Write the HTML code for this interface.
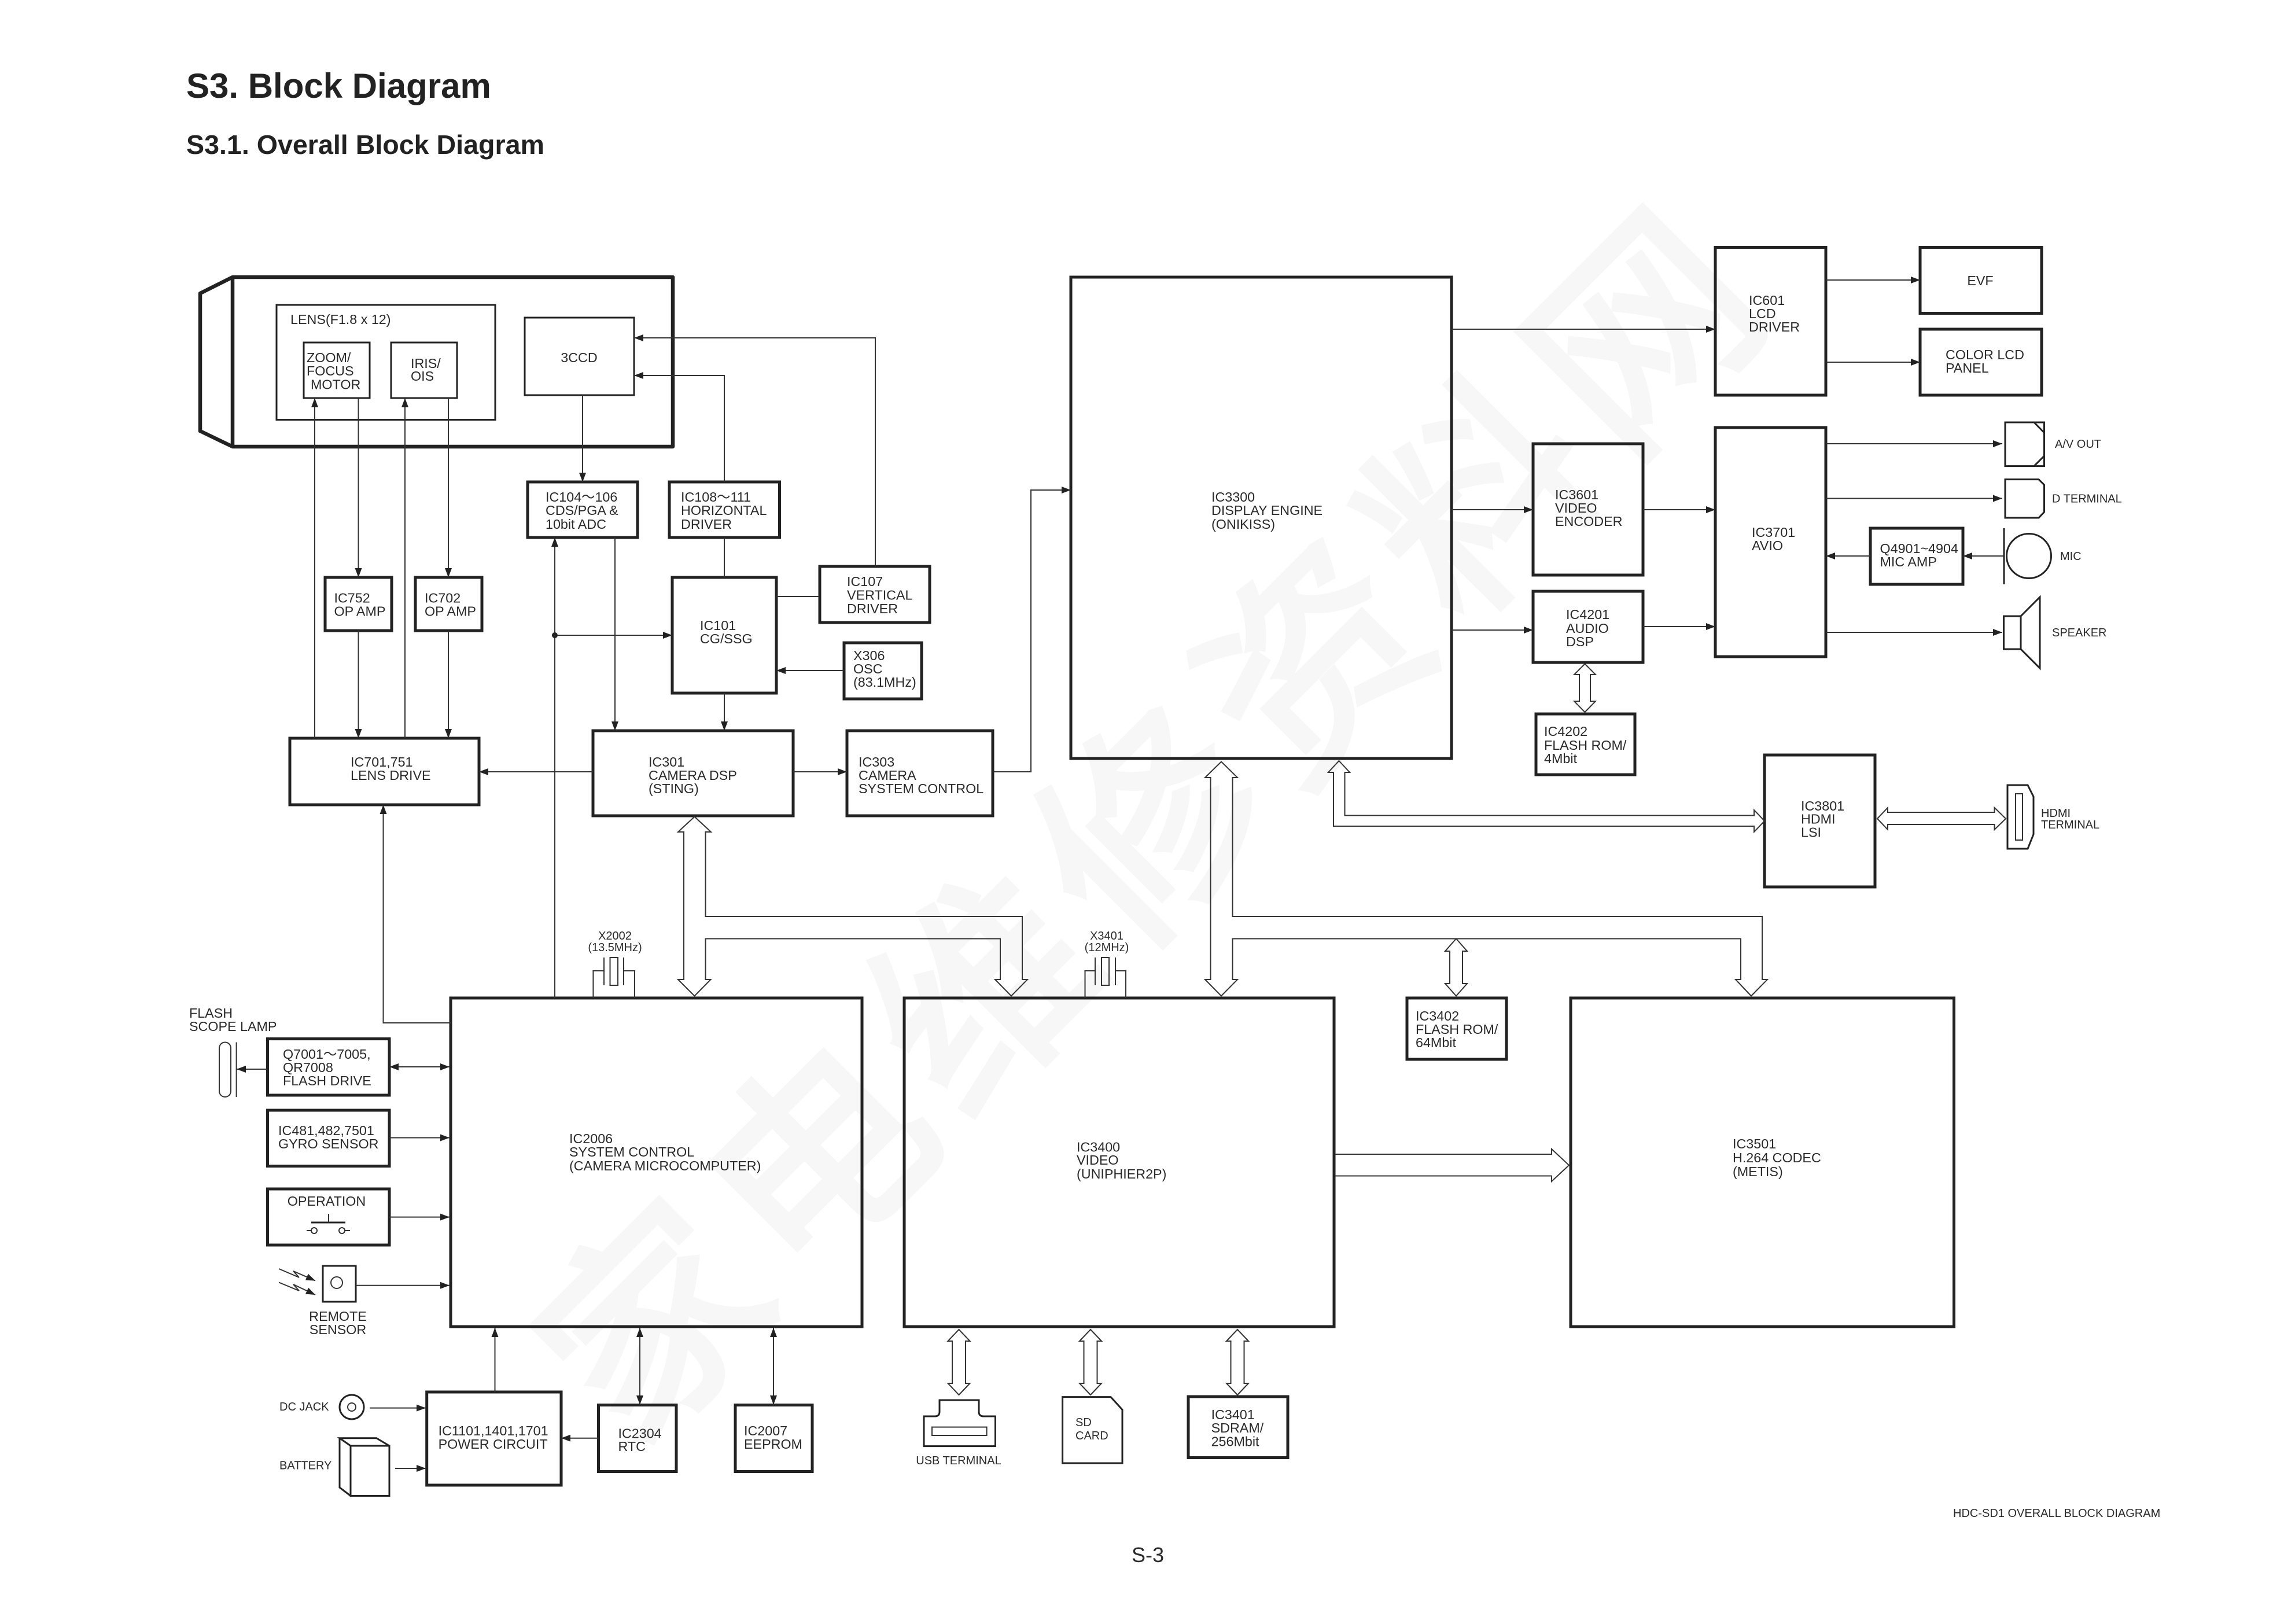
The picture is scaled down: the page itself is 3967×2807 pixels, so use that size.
<!DOCTYPE html>
<html lang="en"><head><meta charset="utf-8"><title>S3. Block Diagram</title>
<style>
html,body{margin:0;padding:0;background:#fff}
svg{display:block}
text{font-family:"Liberation Sans",sans-serif;fill:#2a2a2a;font-size:23.3px}
.s{font-size:20px}
.m{text-anchor:middle}
.wm{font-family:"Liberation Sans","Noto Sans CJK SC",sans-serif;fill:#f7f7f7;stroke:#f7f7f7;stroke-width:10px;font-size:370px;font-weight:400;letter-spacing:33px;text-anchor:middle}
.b{fill:none;stroke:#222;stroke-width:5}
.t{fill:none;stroke:#222;stroke-width:3}
.l{fill:none;stroke:#333;stroke-width:2;marker-end:url(#a)}
.n{fill:none;stroke:#333;stroke-width:2}
.d{fill:none;stroke:#333;stroke-width:2;marker-end:url(#a);marker-start:url(#a)}
.h{fill:none;stroke:#333;stroke-width:2;stroke-linejoin:miter}
</style></head><body>
<svg xmlns="http://www.w3.org/2000/svg" width="3967" height="2807" viewBox="0 0 3967 2807">
<defs><marker id="a" viewBox="0 0 16 12" refX="16" refY="6" markerWidth="16" markerHeight="12" markerUnits="userSpaceOnUse" orient="auto-start-reverse"><path d="M0,0L16,6L0,12Z" fill="#222"/></marker></defs>
<rect width="3967" height="2807" fill="#fff"/>
<text class="wm" x="2001" y="1550" transform="rotate(-45 2001 1422)">家电维修资料网</text>

<text x="322" y="169" style="font-size:60px;font-weight:700;fill:#222">S3. Block Diagram</text>
<text x="322" y="266" style="font-size:46.6px;font-weight:700;fill:#222">S3.1. Overall Block Diagram</text>
<text x="3376" y="2622" style="font-size:20px">HDC-SD1 OVERALL BLOCK DIAGRAM</text>
<text x="1956" y="2700" style="font-size:36px">S-3</text>

<!-- camera -->
<path d="M346,507L402,479H1163V772H402L346,745ZM402,479V772" fill="none" stroke="#222" stroke-width="6.5" stroke-linejoin="round"/>
<rect class="t" x="478" y="527" width="378" height="198.500"/>
<rect class="t" x="525" y="592" width="114" height="96"/>
<rect class="t" x="676" y="592" width="114" height="96"/>
<rect class="t" x="907" y="549" width="189" height="134"/>
<text x="502" y="560">LENS(F1.8 x 12)</text>
<text x="530" y="626">ZOOM/</text><text x="530" y="649">FOCUS</text><text x="537" y="672.500">MOTOR</text>
<text x="710" y="636">IRIS/</text><text x="710" y="658">OIS</text>
<text x="1001" y="626" class="m">3CCD</text>

<!-- upper left blocks -->
<rect class="b" x="912" y="833" width="190" height="96"/>
<text x="943" y="867">IC104～106</text><text x="943" y="890">CDS/PGA &amp;</text><text x="943" y="914">10bit ADC</text>
<rect class="b" x="1157" y="833" width="190.500" height="96"/>
<text x="1177" y="867">IC108～111</text><text x="1177" y="890">HORIZONTAL</text><text x="1177" y="914">DRIVER</text>
<rect class="b" x="562" y="998" width="115" height="92"/>
<text x="577.500" y="1041.500">IC752</text><text x="577.500" y="1064.600">OP AMP</text>
<rect class="b" x="718" y="998" width="115" height="92"/>
<text x="734" y="1041.500">IC702</text><text x="734" y="1064.600">OP AMP</text>
<rect class="b" x="1162" y="998" width="180" height="200"/>
<text x="1210" y="1089">IC101</text><text x="1210" y="1112">CG/SSG</text>
<rect class="b" x="1417" y="979" width="190" height="97"/>
<text x="1464" y="1013">IC107</text><text x="1464" y="1036.500">VERTICAL</text><text x="1464" y="1060">DRIVER</text>
<rect class="b" x="1459" y="1111" width="134" height="97"/>
<text x="1475" y="1141">X306</text><text x="1475" y="1164">OSC</text><text x="1475" y="1187">(83.1MHz)</text>
<rect class="b" x="501" y="1276" width="327" height="115"/>
<text x="606" y="1325">IC701,751</text><text x="606" y="1348">LENS DRIVE</text>
<rect class="b" x="1025" y="1263" width="346" height="147"/>
<text x="1121" y="1325">IC301</text><text x="1121" y="1348">CAMERA DSP</text><text x="1121" y="1371">(STING)</text>
<rect class="b" x="1464" y="1263" width="252" height="147"/>
<text x="1484" y="1325">IC303</text><text x="1484" y="1348">CAMERA</text><text x="1484" y="1371">SYSTEM CONTROL</text>

<!-- display engine group -->
<rect class="b" x="1851" y="479" width="658" height="832"/>
<text x="2094" y="867">IC3300</text><text x="2094" y="890">DISPLAY ENGINE</text><text x="2094" y="914">(ONIKISS)</text>
<rect class="b" x="2650" y="767" width="190" height="227"/>
<text x="2688" y="863">IC3601</text><text x="2688" y="886">VIDEO</text><text x="2688" y="909">ENCODER</text>
<rect class="b" x="2650" y="1022" width="190" height="123"/>
<text x="2707" y="1070">IC4201</text><text x="2707" y="1094">AUDIO</text><text x="2707" y="1117">DSP</text>
<rect class="b" x="2655" y="1234" width="171" height="105"/>
<text x="2669" y="1272">IC4202</text><text x="2669" y="1296">FLASH ROM/</text><text x="2669" y="1319">4Mbit</text>
<rect class="b" x="2965" y="427.500" width="191" height="255.500"/>
<text x="3023" y="527">IC601</text><text x="3023" y="550">LCD</text><text x="3023" y="573">DRIVER</text>
<rect class="b" x="3319" y="427.500" width="210" height="114"/>
<text x="3423" y="493" class="m">EVF</text>
<rect class="b" x="3319" y="569" width="210" height="114"/>
<text x="3363" y="621">COLOR LCD</text><text x="3363" y="644">PANEL</text>
<rect class="b" x="2965" y="739" width="191" height="396"/>
<text x="3028" y="928">IC3701</text><text x="3028" y="951">AVIO</text>
<rect class="b" x="3233" y="913" width="160" height="97"/>
<text x="3249.500" y="956">Q4901~4904</text><text x="3249.500" y="979">MIC AMP</text>
<rect class="b" x="3050" y="1305" width="191" height="228"/>
<text x="3113" y="1401">IC3801</text><text x="3113" y="1423.500">HDMI</text><text x="3113" y="1446.500">LSI</text>

<!-- terminals -->
<path class="t" d="M3466,730H3533.500V805.600H3466ZM3516,730L3533.500,748M3516,805.600L3533.500,788"/>
<text class="s" x="3552" y="774">A/V OUT</text>
<path class="t" d="M3466,828.600H3524L3533.500,838V885L3524,895H3466Z"/>
<text class="s" x="3547" y="868.500">D TERMINAL</text>
<path class="t" d="M3464,913V1010"/><circle class="t" cx="3507" cy="961" r="38.500"/>
<text class="s" x="3561" y="968">MIC</text>
<path class="t" d="M3463.500,1065H3493V1122H3463.500ZM3493,1065L3526,1032V1155L3493,1122"/>
<text class="s" x="3547" y="1100">SPEAKER</text>
<path class="t" d="M3470,1357H3505L3515,1377V1442L3505,1467H3470Z"/>
<rect x="3484" y="1372" width="12" height="80" fill="none" stroke="#333" stroke-width="2"/>
<text class="s" x="3528" y="1412">HDMI</text><text class="s" x="3528" y="1432">TERMINAL</text>

<!-- lower main blocks -->
<rect class="b" x="779" y="1725" width="711" height="568"/>
<text x="984" y="1976">IC2006</text><text x="984" y="1999">SYSTEM CONTROL</text><text x="984" y="2023">(CAMERA MICROCOMPUTER)</text>
<rect class="b" x="1563" y="1725" width="743" height="568"/>
<text x="1861" y="1990.600">IC3400</text><text x="1861" y="2013">VIDEO</text><text x="1861" y="2037">(UNIPHIER2P)</text>
<rect class="b" x="2432" y="1725" width="172" height="106"/>
<text x="2447" y="1764">IC3402</text><text x="2447" y="1787">FLASH ROM/</text><text x="2447" y="1810">64Mbit</text>
<rect class="b" x="2715" y="1725" width="662.500" height="568"/>
<text x="2995" y="1985">IC3501</text><text x="2995" y="2009">H.264 CODEC</text><text x="2995" y="2033">(METIS)</text>

<!-- left peripherals -->
<text x="327" y="1759">FLASH</text><text x="327" y="1782">SCOPE LAMP</text>
<rect x="379" y="1801.500" width="20" height="94.500" rx="10" fill="none" stroke="#333" stroke-width="2"/>
<path class="n" d="M408.600,1801.500V1896"/>
<rect class="b" x="462.500" y="1795.600" width="210.500" height="97.400"/>
<text x="489" y="1830">Q7001～7005,</text><text x="489" y="1853">QR7008</text><text x="489" y="1876">FLASH DRIVE</text>
<rect class="b" x="462.500" y="1919" width="210.500" height="96.600"/>
<text x="481" y="1962">IC481,482,7501</text><text x="481" y="1985">GYRO SENSOR</text>
<rect class="b" x="462.500" y="2055" width="210.500" height="97"/>
<text x="564.500" y="2084" class="m">OPERATION</text>
<path d="M538,2113H597" stroke="#222" stroke-width="3" fill="none"/>
<path class="n" d="M568,2098V2113M530,2127H538M597,2127H605"/>
<circle class="n" cx="543" cy="2127" r="5"/><circle class="n" cx="591" cy="2127" r="5"/>
<path class="l" d="M482,2193L517,2208L507,2197L545,2213.600"/>
<path class="l" d="M482,2216.500L517,2231L507,2220L545,2238"/>
<rect class="t" x="558" y="2188" width="57" height="62"/>
<circle class="n" cx="582" cy="2217" r="10"/>
<text x="584" y="2283" class="m">REMOTE</text><text x="584" y="2306" class="m">SENSOR</text>
<text class="s" x="483" y="2438">DC JACK</text>
<circle class="t" cx="608" cy="2432" r="21"/><circle class="n" cx="608" cy="2432" r="7"/>
<text class="s" x="483" y="2539.600">BATTERY</text>
<path class="t" d="M606,2499H673V2585.500H606ZM606,2499L587,2485.700H650.700L673,2499M587,2485.700V2571L606,2585.500"/>
<rect class="b" x="737.700" y="2406" width="232.300" height="161"/>
<text x="757.600" y="2481">IC1101,1401,1701</text><text x="757.600" y="2504">POWER CIRCUIT</text>
<rect class="b" x="1034.500" y="2428.500" width="134.500" height="115"/>
<text x="1068.500" y="2485.600">IC2304</text><text x="1068.500" y="2508">RTC</text>
<rect class="b" x="1271" y="2428.500" width="133" height="115"/>
<text x="1286" y="2481">IC2007</text><text x="1286" y="2504">EEPROM</text>

<!-- bottom peripherals -->
<path class="t" d="M1597,2448H1616Q1624,2448 1624,2440V2420H1692V2440Q1692,2448 1700,2448H1720.500V2499.600H1597Z"/>
<rect x="1611" y="2466.600" width="94.600" height="14.400" fill="none" stroke="#333" stroke-width="2"/>
<text class="s m" x="1657" y="2531">USB TERMINAL</text>
<path class="t" d="M1836.600,2414.600H1920L1940,2436.600V2529H1836.600Z"/>
<text class="s" x="1859" y="2465">SD</text><text class="s" x="1859" y="2488">CARD</text>
<rect class="b" x="2054" y="2414" width="172" height="105.500"/>
<text x="2093.600" y="2453">IC3401</text><text x="2093.600" y="2476">SDRAM/</text><text x="2093.600" y="2499.500">256Mbit</text>

<!-- crystals -->
<path class="n" d="M1025.400,1725V1678H1044M1097,1725V1678H1078M1044,1655V1703M1078,1655V1703"/>
<rect class="n" x="1054.500" y="1655" width="13.500" height="48"/>
<text class="s m" x="1063" y="1624">X2002</text><text class="s m" x="1063" y="1644">(13.5MHz)</text>
<path class="n" d="M1875.500,1725V1678H1893M1946,1725V1678H1928M1893,1655V1703M1928,1655V1703"/>
<rect class="n" x="1904" y="1655" width="13" height="48"/>
<text class="s m" x="1913" y="1624">X3401</text><text class="s m" x="1913" y="1644">(12MHz)</text>

<!-- thin connectors -->
<path class="l" d="M544,1276V688"/>
<path class="l" d="M619.500,688V998"/><path class="l" d="M619.500,1090V1276"/>
<path class="l" d="M700,1276V688"/>
<path class="l" d="M775,688V998"/><path class="l" d="M775,1090V1276"/>
<path class="l" d="M1007,683V833"/>
<path class="l" d="M1252,833V649H1096"/><path class="n" d="M1252,929V998"/>
<path class="l" d="M1513,979V584H1096"/>
<path class="l" d="M1063,929V1263"/>
<path class="l" d="M1252,1198V1263"/>
<path class="l" d="M959,1725V929"/>
<path class="l" d="M959,1098H1162"/><circle cx="959" cy="1098" r="5" fill="#222"/>
<path class="n" d="M1342,1031H1416"/>
<path class="l" d="M1458,1159H1342"/>
<path class="l" d="M1025,1334H828"/>
<path class="l" d="M1371,1334H1464"/>
<path class="l" d="M1716,1334H1782V847H1851"/>
<path class="l" d="M779,1768H662.500V1391"/>
<path class="l" d="M2509,569H2965"/>
<path class="l" d="M2509,881H2650"/>
<path class="l" d="M2509,1089H2650"/>
<path class="l" d="M2840,881H2965"/>
<path class="l" d="M2840,1083H2965"/>
<path class="l" d="M3156,484H3319"/><path class="l" d="M3156,626H3319"/>
<path class="l" d="M3156,767H3461"/><path class="l" d="M3156,861.500H3461"/><path class="l" d="M3156,1093H3461"/>
<path class="l" d="M3463,961H3393"/><path class="l" d="M3233,961H3156"/>
<path class="l" d="M462,1848H409"/>
<path class="d" d="M673,1844H777"/>
<path class="l" d="M673,1966.500H777"/>
<path class="l" d="M673,2103.600H777"/>
<path class="l" d="M615,2221.700H777"/>
<path class="l" d="M639,2433.600H736"/>
<path class="l" d="M683,2538H736"/>
<path class="l" d="M855.500,2406V2295"/>
<path class="d" d="M1106,2295V2428"/>
<path class="d" d="M1337,2295V2428"/>
<path class="l" d="M1034.500,2485.700H970"/>

<!-- hollow bus arrows -->
<path class="h" d="M1200.500,1411.600L1229,1438H1219.500V1584H1767V1693H1776L1748,1721.500L1720,1693H1729V1622.500H1219.500V1693H1228.500L1200.500,1721.500L1172,1693H1182V1438H1172Z"/>
<path class="h" d="M2111,1316.500L2139,1344H2130.500V1584H3046V1693H3055L3027,1721.500L3000,1693H3009V1622.500H2130.500V1693H2139L2111,1721.500L2083,1693H2092.500V1344H2083Z"/>
<path class="h" d="M2314.500,1315L2333,1335H2324.500V1409.500H3032V1400L3050,1419L3032,1438V1428H2305V1335H2296Z"/>
<path class="h" d="M3245,1415L3263,1396V1404H3447.500V1396L3467,1415L3447.500,1434V1425H3263V1434Z"/>
<path class="h" d="M2308,1995H2682V1986L2712,2014L2682,2042V2032.500H2308"/>
<path class="h" d="M2739.500,1147.500L2758,1166H2749V1212H2758L2739.500,1231L2721,1212H2730V1166H2721Z"/>
<path class="h" d="M2517,1622.500L2536,1644H2528V1700H2536L2517,1721.500L2498,1700H2506V1644H2498Z"/>
<path class="h" d="M1657.500,2298L1676.500,2318H1669V2391H1676.500L1657.500,2411L1638.500,2391H1646V2318H1638.500Z"/>
<path class="h" d="M1885,2298L1904,2318H1896.500V2391H1904L1885,2411L1866,2391H1873.500V2318H1866Z"/>
<path class="h" d="M2139,2298L2158,2318H2150.500V2391H2158L2139,2411L2120,2391H2127.500V2318H2120Z"/>
</svg>
</body></html>
